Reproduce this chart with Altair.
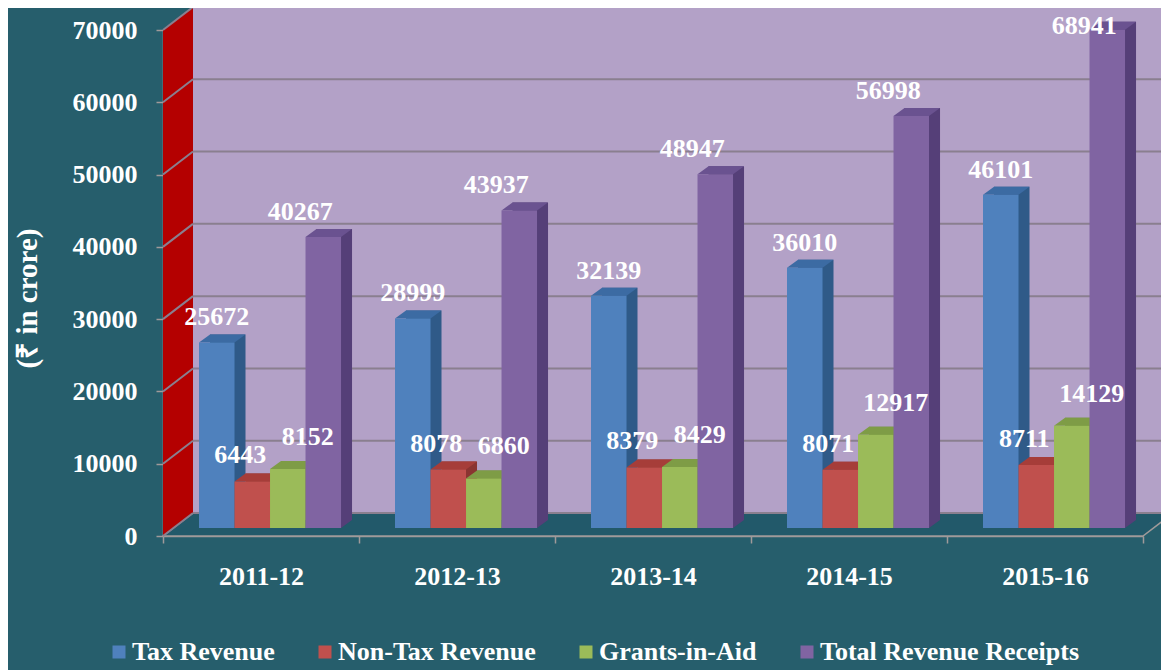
import altair as alt
import pandas as pd

# ---------------- data ----------------
YEARS = ["2011-12", "2012-13", "2013-14", "2014-15", "2015-16"]
SERIES = ["Tax Revenue", "Non-Tax Revenue", "Grants-in-Aid", "Total Revenue Receipts"]
TAX = [25672, 28999, 32139, 36010, 46101]
NON_TAX = [6443, 8078, 8379, 8071, 8711]
GRANTS = [8152, 6860, 8429, 12917, 14129]
TOTAL = [40267, 43937, 48947, 56998, 68941]
Y_TICKS = [0, 10000, 20000, 30000, 40000, 50000, 60000, 70000]
Y_TITLE = "(₹ in crore)"

# ---------------- styles ----------------
BG = "#265e6c"
FLOOR = "#22596a"
WALL_BACK = "#b3a1c7"
WALL_LEFT = "#b40000"
GRID = "#8a7f8f"
AXIS_GRAY = "#a09a9a"
FRONT = ["#4f81bd", "#c0504d", "#9bbb59", "#8064a2"]
SIDE = ["#2f5a88", "#8a3431", "#6e8a3a", "#553f78"]
TOP = ["#3c6ba3", "#a63d39", "#7e9c46", "#6a5290"]
SERIF = "Liberation Serif"
FS = 26

W, H = 980, 506            # plot area
DX, DY = 30, 23            # wall depth
BDX, BDY = 11, 8           # bar depth
SY = 8                     # bars stand a little behind the front edge
OUTER = 0.76               # outer padding of the series sub-band
LEFT_GAP = 36              # px between category start and first bar
BAR_W = W / len(YEARS) / (len(SERIES) + 2 * OUTER)
OUTER_PX = W / len(YEARS) - len(SERIES) * BAR_W
ALIGN = LEFT_GAP / OUTER_PX
ALIGN_BACK = (LEFT_GAP + BDX) / OUTER_PX
LABEL_OFF = {
    "Tax Revenue": (0, -25),
    "Non-Tax Revenue": (-12, -26),
    "Grants-in-Aid": (20, -32),
    "Total Revenue Receipts": (-23, -25),
}

def f(v):
    return f"{v:.2f}"

hw = BAR_W / 2
TOP_PATH = f"M{f(-hw)},0L{f(hw)},0L{f(hw + BDX)},{-BDY}L{f(-hw + BDX)},{-BDY}Z"
TRI_PATH = f"M{f(hw)},0L{f(hw)},{-BDY}L{f(hw + BDX)},{-BDY}Z"
FLOOR_PATH = f"M0,0L{W},0L{W + DX},{-DY}L{DX},{-DY}Z"
LEFT_PATH = f"M0,0L0,{-H}L{DX},{-H - DY}L{DX},{-DY}Z"

rows = []
for series, vals in zip(SERIES, [TAX, NON_TAX, GRANTS, TOTAL]):
    for yr, v in zip(YEARS, vals):
        rows.append({"year": yr, "series": series, "value": v})
df = pd.DataFrame(rows)
grid_df = pd.DataFrame({"v": Y_TICKS})
zero_df = pd.DataFrame({"v": [0]})
wall_df = pd.DataFrame({"v": [Y_TICKS[-1]], "bottom": [0]})

yscale = alt.Scale(domain=[0, Y_TICKS[-1]], nice=False, zero=True)

x_axis = alt.Axis(
    title=None, labelAngle=0, tickBand="extent", tickSize=7, tickWidth=1.5,
    tickColor=AXIS_GRAY, domainColor=AXIS_GRAY, domainWidth=1.5,
    labelFont=SERIF, labelFontSize=FS, labelFontWeight="bold", labelColor="white",
    labelPadding=20, grid=False,
)
y_axis = alt.Axis(
    values=Y_TICKS, format="d", grid=False, tickSize=7, tickWidth=1.5,
    tickColor=AXIS_GRAY, domainColor=AXIS_GRAY, domainWidth=1.5,
    labelFont=SERIF, labelFontSize=FS, labelFontWeight="bold", labelColor="white",
    labelPadding=19,
    title=Y_TITLE, titleFont=SERIF, titleFontSize=29, titleFontWeight="bold",
    titleColor="white", titleAngle=270, titleAlign="center", titleBaseline="middle",
    titleX=-136, titleY=268,
)

XS = alt.Scale(domain=YEARS, paddingInner=0, paddingOuter=0)
LEGEND = alt.Legend(
    orient="none", legendX=-57, legendY=609, direction="horizontal", title=None,
    symbolType="square", symbolSize=169, symbolStrokeWidth=0,
    labelFont=SERIF, labelFontSize=FS, labelFontWeight="bold", labelColor="white",
    labelOffset=0, columnPadding=37, labelLimit=0,
)


def X():
    return alt.X("year:N", sort=YEARS, scale=XS, axis=x_axis)


def XO(align=ALIGN):
    return alt.XOffset("series:N", sort=SERIES,
                       scale=alt.Scale(type="band", domain=SERIES, paddingInner=0,
                                       paddingOuter=OUTER, align=align))


def Y(field):
    return alt.Y(f"{field}:Q", scale=yscale, axis=y_axis)


# ---------------- frame ----------------
floor = alt.Chart(zero_df).mark_point(
    shape=FLOOR_PATH, size=4, filled=True, fill=FLOOR, stroke=AXIS_GRAY,
    strokeWidth=1.5, opacity=1,
).encode(x=alt.value(0), y=Y("v"))

back_wall = alt.Chart(wall_df).mark_rect(
    color=WALL_BACK, opacity=1, yOffset=-DY, y2Offset=-DY,
).encode(x=alt.value(DX), x2=alt.value(W + DX + 20), y=Y("v"), y2="bottom:Q")

back_grid = alt.Chart(grid_df).mark_rule(
    color=GRID, strokeWidth=2, yOffset=-DY,
).encode(x=alt.value(DX), x2=alt.value(W + DX + 20), y=Y("v"))

left_wall = alt.Chart(zero_df).mark_point(
    shape=LEFT_PATH, size=4, filled=True, fill=WALL_LEFT, strokeWidth=0, opacity=1,
).encode(x=alt.value(0), y=Y("v"))

left_grid = alt.Chart(grid_df).mark_rule(
    color=GRID, strokeWidth=2, y2Offset=-DY,
).encode(x=alt.value(0), x2=alt.value(DX), y=Y("v"), y2="v:Q")

# ---------------- bars ----------------
base = alt.Chart(df).transform_calculate(zero="0")

# back copy of every bar, shifted by the bar depth: shows as the right-hand side face
back = base.mark_bar(
    opacity=1, yOffset=-SY - BDY, y2Offset=-SY - BDY,
).encode(
    x=X(), xOffset=XO(ALIGN_BACK), y=Y("value"), y2="zero:Q",
    fill=alt.Fill("series:N", scale=alt.Scale(domain=SERIES, range=SIDE), legend=None),
)

tri = base.mark_point(
    shape=TRI_PATH, size=4, filled=True, strokeWidth=0, opacity=1, yOffset=-SY,
).encode(
    x=X(), xOffset=XO(), y=Y("zero"),
    fill=alt.Fill("series:N", scale=alt.Scale(domain=SERIES, range=SIDE), legend=None),
)

tops = base.mark_point(
    shape=TOP_PATH, size=4, filled=True, strokeWidth=0, opacity=1, yOffset=-SY,
).encode(
    x=X(), xOffset=XO(), y=Y("value"),
    fill=alt.Fill("series:N", scale=alt.Scale(domain=SERIES, range=TOP), legend=None),
)

front = base.mark_bar(
    opacity=1, yOffset=-SY, y2Offset=-SY,
).encode(
    x=X(), xOffset=XO(), y=Y("value"), y2="zero:Q",
    color=alt.Color("series:N", sort=SERIES, scale=alt.Scale(domain=SERIES, range=FRONT),
                    legend=LEGEND),
)

labels = []
for s in SERIES:
    dx, dy = LABEL_OFF[s]
    labels.append(
        base.transform_filter(alt.datum.series == s)
        .transform_calculate(ly=f"min(datum.value, {Y_TICKS[-1] - 4000})")
        .mark_text(
            font=SERIF, fontSize=FS, fontWeight="bold", color="white",
            align="center", baseline="middle", dx=dx, dy=-SY + dy,
        )
        .encode(
            x=X(), xOffset=XO(), y=Y("ly"),
            text=alt.Text("value:Q", format="d"),
        )
    )

chart = alt.layer(
    floor, back_wall, back_grid, left_wall, left_grid,
    back, tri, tops, front, *labels,
).resolve_scale(
    fill="independent", xOffset="independent"
).properties(
    width=W, height=H,
    autosize=alt.AutoSizeParams(type="none"),
    padding={"left": 155, "top": 22, "right": 18, "bottom": 134},
    background=BG,
).configure_view(strokeWidth=0)

chart.save("out.html", embed_options={"renderer": "svg", "actions": False})
